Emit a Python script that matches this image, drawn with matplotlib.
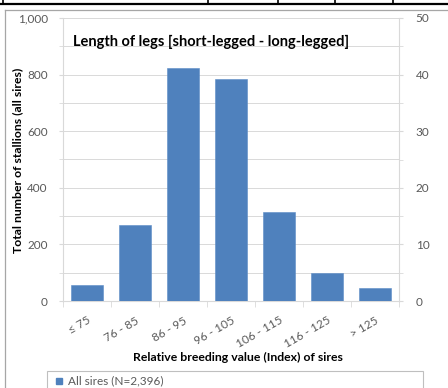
import matplotlib
matplotlib.use("Agg")
import matplotlib.pyplot as plt
from matplotlib.lines import Line2D
from matplotlib.patches import Rectangle
import numpy as np

plt.rcParams["font.family"] = ["Lato", "DejaVu Sans"]

CATEGORIES = ["≤ 75", "76 - 85", "86 - 95", "96 - 105", "106 - 115", "116 - 125", "> 125"]
COUNTS = [58, 268, 825, 783, 316, 99, 47]
TITLE = "Length of legs [short-legged - long-legged]"
XLABEL = "Relative breeding value (Index) of sires"
YLABEL = "Total number of stallions (all sires)"
LEGEND = "All sires (N=2,396)"

BLUE = "#4F81BD"
GRID = "#D9D9D9"
TICK = "#595959"

fig = plt.figure(figsize=(4.48, 3.88), dpi=100)
W, H = 448, 388


def fx(px):
    return px / W


def fy(py):
    return 1 - py / H


# table remnant at the top of the page
fig.add_artist(Line2D([fx(0), fx(448)], [fy(4), fy(4)], color="black", lw=1.6))
for xv in [3, 208, 278, 335, 393]:
    fig.add_artist(Line2D([fx(xv), fx(xv)], [fy(0), fy(4)], color="black", lw=1.2))

# chart frame (left and top edges visible)
fig.add_artist(Line2D([fx(5), fx(448)], [fy(9.5), fy(9.5)], color="#A6A6A6", lw=0.9))
fig.add_artist(Line2D([fx(5), fx(5)], [fy(9.5), fy(388)], color="#A6A6A6", lw=0.9))

ax = fig.add_axes([fx(63), fy(301), fx(399) - fx(63), fy(18) - fy(301)])
x = np.arange(len(CATEGORIES))
ax.bar(x, COUNTS, width=0.66, color=BLUE, edgecolor="#5B8CC6", lw=0.4, zorder=3)

ax.set_xlim(-0.5, len(CATEGORIES) - 0.5)
ax.set_ylim(0, 1000)
ax.set_yticks(range(0, 1001, 200))
ax.set_yticks(range(0, 1001, 100), minor=True)
ax.set_yticklabels(["0", "200", "400", "600", "800", "1,000"])
ax.grid(True, axis="y", which="both", color=GRID, lw=0.7, zorder=0)
ax.tick_params(axis="y", which="both", length=3, color=GRID, labelsize=8.5,
               labelcolor=TICK, pad=8)

ax.set_xticks(x)
ax.set_xticks(np.arange(-0.5, len(CATEGORIES)), minor=True)
ax.set_xticklabels(CATEGORIES, rotation=30, ha="right", rotation_mode="anchor",
                   fontsize=8.5, color=TICK)
ax.tick_params(axis="x", which="major", length=0, pad=10)
ax.tick_params(axis="x", which="minor", length=4, color=GRID)

for side in ["top", "right"]:
    ax.spines[side].set_visible(False)
ax.spines["left"].set_color(GRID)
ax.spines["bottom"].set_color(GRID)

ax2 = ax.twinx()
ax2.set_ylim(0, 50)
ax2.set_yticks(range(0, 51, 10))
ax2.set_yticks(range(0, 51, 5), minor=True)
ax2.tick_params(axis="y", which="both", length=3, color=GRID, labelsize=8.5,
                labelcolor=TICK, pad=9)
for side in ["top", "left", "bottom"]:
    ax2.spines[side].set_visible(False)
ax2.spines["right"].set_color(GRID)

ax.text(0.03, 0.915, TITLE, transform=ax.transAxes, fontsize=10.5,
        fontweight="bold", color="black", va="center")

fig.text(fx(238), fy(357), XLABEL, ha="center", va="center", fontsize=8.8,
         fontweight="bold")
fig.text(fx(18), fy(160), YLABEL, ha="center", va="center", rotation=90,
         fontsize=8.8, fontweight="bold")

# legend box (cut off by the image bottom)
fig.add_artist(Rectangle((fx(47), fy(395)), fx(423) - fx(47), fy(371) - fy(395),
                         fill=False, edgecolor="#BFBFBF", lw=0.8))
fig.add_artist(Rectangle((fx(56), fy(384)), fx(6), fy(378) - fy(384),
                         color=BLUE))
fig.text(fx(68), fy(381), LEGEND, fontsize=8.5, color=TICK, va="center")

fig.savefig("out.png", dpi=100)
